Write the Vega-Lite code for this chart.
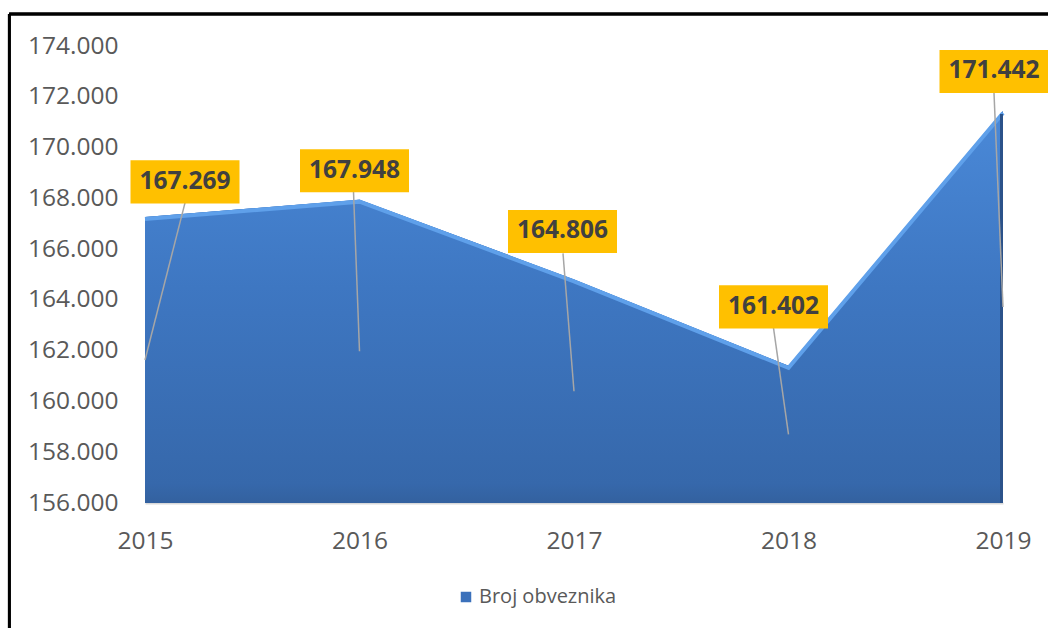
{
  "$schema": "https://vega.github.io/schema/vega-lite/v6.json",
  "width": 858,
  "height": 457,
  "autosize": {"type": "none"},
  "padding": {"left": 145, "top": 46, "right": 45, "bottom": 125},
  "background": "#ffffff",
  "config": {
    "view": {"stroke": null},
    "font": "Open Sans",
    "locale": {"number": {"decimal": ",", "thousands": ".", "grouping": [3], "currency": ["", " €"]}}
  },
  "data": {
    "values": [
      {"year": 2015, "value": 167269, "series": "Broj obveznika"},
      {"year": 2016, "value": 167948, "series": "Broj obveznika"},
      {"year": 2017, "value": 164806, "series": "Broj obveznika"},
      {"year": 2018, "value": 161402, "series": "Broj obveznika"},
      {"year": 2019, "value": 171442, "series": "Broj obveznika"}
    ]
  },
  "transform": [{"calculate": "(datum.value + 156000) / 2", "as": "anchor"}],
  "layer": [
    {
      "mark": {"type": "area", "opacity": 1},
      "encoding": {
        "x": {
          "field": "year", "type": "quantitative",
          "scale": {"domain": [2015, 2019], "nice": false, "zero": false},
          "axis": {
            "values": [2015, 2016, 2017, 2018, 2019], "format": "d", "title": null,
            "grid": false, "ticks": false, "tickSize": 0, "labelPadding": 26,
            "labelFlush": false, "labelFont": "Open Sans", "labelFontSize": 24.5,
            "labelColor": "#595959", "domainColor": "#D9D9D9", "domainWidth": 2
          }
        },
        "y": {
          "field": "value", "type": "quantitative",
          "scale": {"domain": [156000, 174000], "nice": false, "zero": false},
          "axis": {
            "values": [156000, 158000, 160000, 162000, 164000, 166000, 168000, 170000, 172000, 174000],
            "format": ",d", "title": null, "grid": false, "ticks": false, "tickSize": 0,
            "domain": false, "labelPadding": 27, "labelFont": "Open Sans",
            "labelFontSize": 24.5, "labelColor": "#595959"
          }
        },
        "y2": {"datum": 156000},
        "color": {
          "field": "series", "type": "nominal",
          "scale": {"range": ["#3B71BB"]},
          "legend": {
            "orient": "none", "legendX": 311, "legendY": 541, "title": null,
            "symbolType": "square", "symbolSize": 110, "symbolStrokeWidth": 0,
            "labelFont": "Open Sans", "labelFontSize": 20, "labelColor": "#595959",
            "labelOffset": 3, "padding": 0
          }
        }
      }
    },
    {
      "mark": {
        "type": "area", "opacity": 1,
        "color": {
          "gradient": "linear", "x1": 0, "y1": 0, "x2": 0, "y2": 1,
          "stops": [
            {"offset": 0, "color": "#4A89D8"},
            {"offset": 0.45, "color": "#3E77C2"},
            {"offset": 0.95, "color": "#3668AB"},
            {"offset": 1, "color": "#33619F"}
          ]
        }
      },
      "encoding": {
        "x": {"field": "year", "type": "quantitative"},
        "y": {"field": "value", "type": "quantitative"},
        "y2": {"datum": 156000}
      }
    },
    {
      "mark": {"type": "line", "color": "#5FA0EA", "strokeWidth": 4, "yOffset": 2},
      "encoding": {
        "x": {"field": "year", "type": "quantitative"},
        "y": {"field": "value", "type": "quantitative"}
      }
    },
    {
      "transform": [{"filter": "datum.year == 2019"}],
      "mark": {"type": "rule", "color": "#2B528A", "strokeWidth": 3, "xOffset": -1.5, "yOffset": 3},
      "encoding": {
        "x": {"field": "year", "type": "quantitative"},
        "y": {"field": "value", "type": "quantitative"},
        "y2": {"datum": 156000}
      }
    },
    {
      "transform": [{"filter": "datum.year == 2015"}],
      "layer": [
        {"mark": {"type": "rule", "color": "#A6A6A6", "strokeWidth": 1.5, "x2Offset": 40, "y2Offset": -14},
         "encoding": {"x": {"field": "year", "type": "quantitative"}, "y": {"field": "anchor", "type": "quantitative"}, "x2": {"field": "year"}, "y2": {"field": "value"}}},
        {"mark": {"type": "point", "shape": "M-1,-0.395L1,-0.395L1,0.395L-1,0.395Z", "size": 11881, "filled": true, "color": "#FFC000", "opacity": 1, "xOffset": 40, "yOffset": -35},
         "encoding": {"x": {"field": "year", "type": "quantitative"}, "y": {"field": "value", "type": "quantitative"}}},
        {"mark": {"type": "text", "font": "Open Sans", "fontWeight": "bold", "fontSize": 24.5, "color": "#404040", "align": "center", "baseline": "middle", "xOffset": 40, "yOffset": -35},
         "encoding": {"x": {"field": "year", "type": "quantitative"}, "y": {"field": "value", "type": "quantitative"}, "text": {"field": "value", "type": "quantitative", "format": ",d"}}}
      ]
    },
    {
      "transform": [{"filter": "datum.year == 2016"}],
      "layer": [
        {"mark": {"type": "rule", "color": "#A6A6A6", "strokeWidth": 1.5, "x2Offset": -6, "y2Offset": -8},
         "encoding": {"x": {"field": "year", "type": "quantitative"}, "y": {"field": "anchor", "type": "quantitative"}, "x2": {"field": "year"}, "y2": {"field": "value"}}},
        {"mark": {"type": "point", "shape": "M-1,-0.395L1,-0.395L1,0.395L-1,0.395Z", "size": 11881, "filled": true, "color": "#FFC000", "opacity": 1, "xOffset": -5, "yOffset": -29},
         "encoding": {"x": {"field": "year", "type": "quantitative"}, "y": {"field": "value", "type": "quantitative"}}},
        {"mark": {"type": "text", "font": "Open Sans", "fontWeight": "bold", "fontSize": 24.5, "color": "#404040", "align": "center", "baseline": "middle", "xOffset": -5, "yOffset": -29},
         "encoding": {"x": {"field": "year", "type": "quantitative"}, "y": {"field": "value", "type": "quantitative"}, "text": {"field": "value", "type": "quantitative", "format": ",d"}}}
      ]
    },
    {
      "transform": [{"filter": "datum.year == 2017"}],
      "layer": [
        {"mark": {"type": "rule", "color": "#A6A6A6", "strokeWidth": 1.5, "x2Offset": -11, "y2Offset": -26},
         "encoding": {"x": {"field": "year", "type": "quantitative"}, "y": {"field": "anchor", "type": "quantitative"}, "x2": {"field": "year"}, "y2": {"field": "value"}}},
        {"mark": {"type": "point", "shape": "M-1,-0.395L1,-0.395L1,0.395L-1,0.395Z", "size": 11881, "filled": true, "color": "#FFC000", "opacity": 1, "xOffset": -11.5, "yOffset": -48},
         "encoding": {"x": {"field": "year", "type": "quantitative"}, "y": {"field": "value", "type": "quantitative"}}},
        {"mark": {"type": "text", "font": "Open Sans", "fontWeight": "bold", "fontSize": 24.5, "color": "#404040", "align": "center", "baseline": "middle", "xOffset": -11.5, "yOffset": -48},
         "encoding": {"x": {"field": "year", "type": "quantitative"}, "y": {"field": "value", "type": "quantitative"}, "text": {"field": "value", "type": "quantitative", "format": ",d"}}}
      ]
    },
    {
      "transform": [{"filter": "datum.year == 2018"}],
      "layer": [
        {"mark": {"type": "rule", "color": "#A6A6A6", "strokeWidth": 1.5, "x2Offset": -15, "y2Offset": -38},
         "encoding": {"x": {"field": "year", "type": "quantitative"}, "y": {"field": "anchor", "type": "quantitative"}, "x2": {"field": "year"}, "y2": {"field": "value"}}},
        {"mark": {"type": "point", "shape": "M-1,-0.395L1,-0.395L1,0.395L-1,0.395Z", "size": 11881, "filled": true, "color": "#FFC000", "opacity": 1, "xOffset": -15, "yOffset": -59},
         "encoding": {"x": {"field": "year", "type": "quantitative"}, "y": {"field": "value", "type": "quantitative"}}},
        {"mark": {"type": "text", "font": "Open Sans", "fontWeight": "bold", "fontSize": 24.5, "color": "#404040", "align": "center", "baseline": "middle", "xOffset": -15, "yOffset": -59},
         "encoding": {"x": {"field": "year", "type": "quantitative"}, "y": {"field": "value", "type": "quantitative"}, "text": {"field": "value", "type": "quantitative", "format": ",d"}}}
      ]
    },
    {
      "transform": [{"filter": "datum.year == 2019"}],
      "layer": [
        {"mark": {"type": "rule", "color": "#A6A6A6", "strokeWidth": 1.5, "x2Offset": -9, "y2Offset": -18},
         "encoding": {"x": {"field": "year", "type": "quantitative"}, "y": {"field": "anchor", "type": "quantitative"}, "x2": {"field": "year"}, "y2": {"field": "value"}}},
        {"mark": {"type": "point", "shape": "M-1,-0.395L1,-0.395L1,0.395L-1,0.395Z", "size": 11881, "filled": true, "color": "#FFC000", "opacity": 1, "xOffset": -9, "yOffset": -39.5},
         "encoding": {"x": {"field": "year", "type": "quantitative"}, "y": {"field": "value", "type": "quantitative"}}},
        {"mark": {"type": "text", "font": "Open Sans", "fontWeight": "bold", "fontSize": 24.5, "color": "#404040", "align": "center", "baseline": "middle", "xOffset": -9, "yOffset": -39.5},
         "encoding": {"x": {"field": "year", "type": "quantitative"}, "y": {"field": "value", "type": "quantitative"}, "text": {"field": "value", "type": "quantitative", "format": ",d"}}}
      ]
    },
    {
      "mark": {"type": "rule", "color": "#000000", "strokeWidth": 2.5},
      "encoding": {
        "x": {"datum": 2014.367, "type": "quantitative"},
        "y": {"datum": 175260, "type": "quantitative"},
        "y2": {"datum": 150000}
      }
    },
    {
      "mark": {"type": "rule", "color": "#000000", "strokeWidth": 2.5},
      "encoding": {
        "x": {"datum": 2014.367, "type": "quantitative"},
        "x2": {"datum": 2019.4},
        "y": {"datum": 175260, "type": "quantitative"}
      }
    }
  ]
}
